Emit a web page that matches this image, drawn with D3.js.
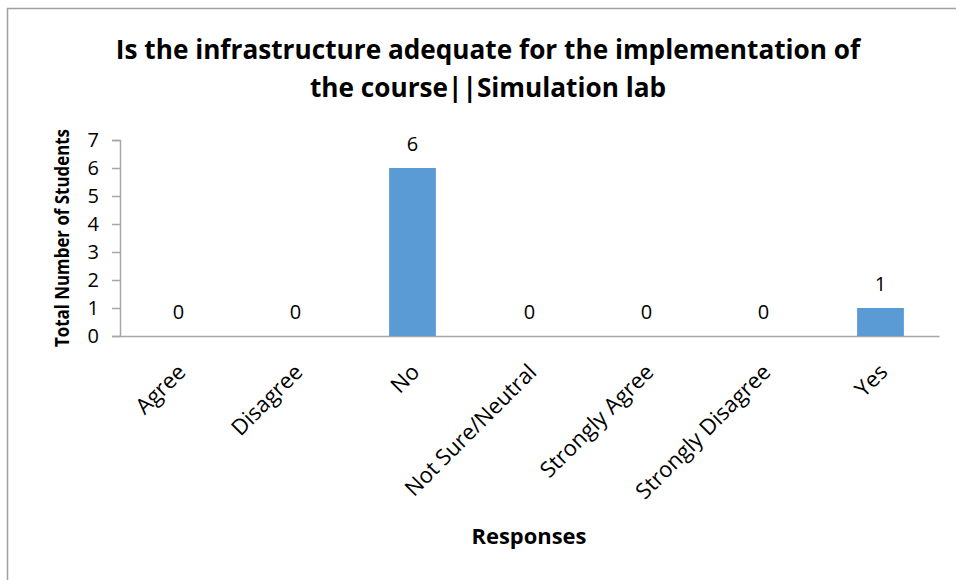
<!DOCTYPE html>
<html>
<head>
<meta charset="utf-8">
<script src="https://cdn.jsdelivr.net/npm/d3@7"></script>
<style>
  body { margin: 0; background: #fff; }
  svg { display: block; font-family: "Open Sans", sans-serif; }
</style>
</head>
<body>
<svg id="chart" width="956" height="580"></svg>
<script>
// data
const categories = ['Agree', 'Disagree', 'No', 'Not Sure/Neutral', 'Strongly Agree', 'Strongly Disagree', 'Yes'];
const counts = [0, 0, 6, 0, 0, 0, 1];
const yTicks = [0, 1, 2, 3, 4, 5, 6, 7];
const titleLines = ['Is the infrastructure adequate for the implementation of', 'the course||Simulation lab'];

const svg = d3.select('#chart');

// chart frame (runs off the right / bottom edge)
svg.append('rect')
    .attr('x', 7.5).attr('y', 8.5)
    .attr('width', 1000).attr('height', 1000)
    .attr('fill', 'none')
    .attr('stroke', '#a0a0a0')
    .attr('stroke-width', 1.5);

const x = d3.scaleBand()
    .domain(categories)
    .range([120, 939])
    .paddingInner(0.6)
    .paddingOuter(0.3);

const y = d3.scaleLinear()
    .domain([0, 7])
    .range([336, 140]);

// fit a text element to a target width
function fit(sel, target) {
    const w = sel.node().getComputedTextLength();
    const fs = parseFloat(sel.attr('font-size'));
    sel.attr('font-size', fs * target / w);
}

// title
const title = svg.append('g').attr('font-weight', 'bold').attr('fill', '#000');
const t1 = title.append('text')
    .attr('x', 488).attr('y', 59)
    .attr('text-anchor', 'middle')
    .attr('font-size', 28)
    .text(titleLines[0]);
fit(t1, 745);
const t2 = title.append('text')
    .attr('x', 488).attr('y', 97)
    .attr('text-anchor', 'middle')
    .attr('font-size', t1.attr('font-size'))
    .text(titleLines[1]);

// y axis
const yAxis = svg.append('g')
    .attr('transform', 'translate(120,0)')
    .call(d3.axisLeft(y).tickValues(yTicks).tickFormat(d3.format('d')).tickSize(8).tickPadding(13));
yAxis.select('.domain').attr('stroke', '#a6a6a6').attr('stroke-width', 1.5);
yAxis.selectAll('.tick line').attr('stroke', '#a6a6a6').attr('stroke-width', 1.5);
yAxis.selectAll('.tick text')
    .attr('font-size', 20)
    .attr('font-family', '"Open Sans", sans-serif')
    .attr('fill', '#000');

// x axis
const xAxis = svg.append('g')
    .attr('transform', 'translate(0,336)')
    .call(d3.axisBottom(x).tickSize(0).tickPadding(0));
xAxis.select('.domain').attr('stroke', '#a6a6a6').attr('stroke-width', 1.5);
xAxis.selectAll('.tick text')
    .attr('font-size', 22)
    .attr('font-family', '"Open Sans", sans-serif')
    .attr('fill', '#000')
    .attr('text-anchor', 'end')
    .attr('dy', '0.35em')
    .attr('transform', 'translate(3,32) rotate(-45)');

// bars
svg.append('g').selectAll('rect')
    .data(counts)
    .join('rect')
    .attr('x', (d, i) => x(categories[i]))
    .attr('width', x.bandwidth())
    .attr('y', d => y(d))
    .attr('height', d => y(0) - y(d))
    .attr('fill', '#5b9bd5');

// value labels
svg.append('g').selectAll('text')
    .data(counts)
    .join('text')
    .attr('x', (d, i) => x(categories[i]) + x.bandwidth() / 2)
    .attr('y', d => y(d) - 17)
    .attr('text-anchor', 'middle')
    .attr('font-size', 20)
    .attr('fill', '#000')
    .text(d => d);

// axis titles
const xt = svg.append('text')
    .attr('x', 529).attr('y', 544)
    .attr('text-anchor', 'middle')
    .attr('font-weight', 'bold')
    .attr('font-size', 18)
    .text('Responses');
fit(xt, 115);

svg.append('text')
    .attr('transform', 'translate(69,238) rotate(-90)')
    .attr('text-anchor', 'middle')
    .attr('font-weight', 'bold')
    .attr('font-size', 19)
    .attr('textLength', 218)
    .attr('lengthAdjust', 'spacingAndGlyphs')
    .text('Total Number of Students');
</script>
</body>
</html>
